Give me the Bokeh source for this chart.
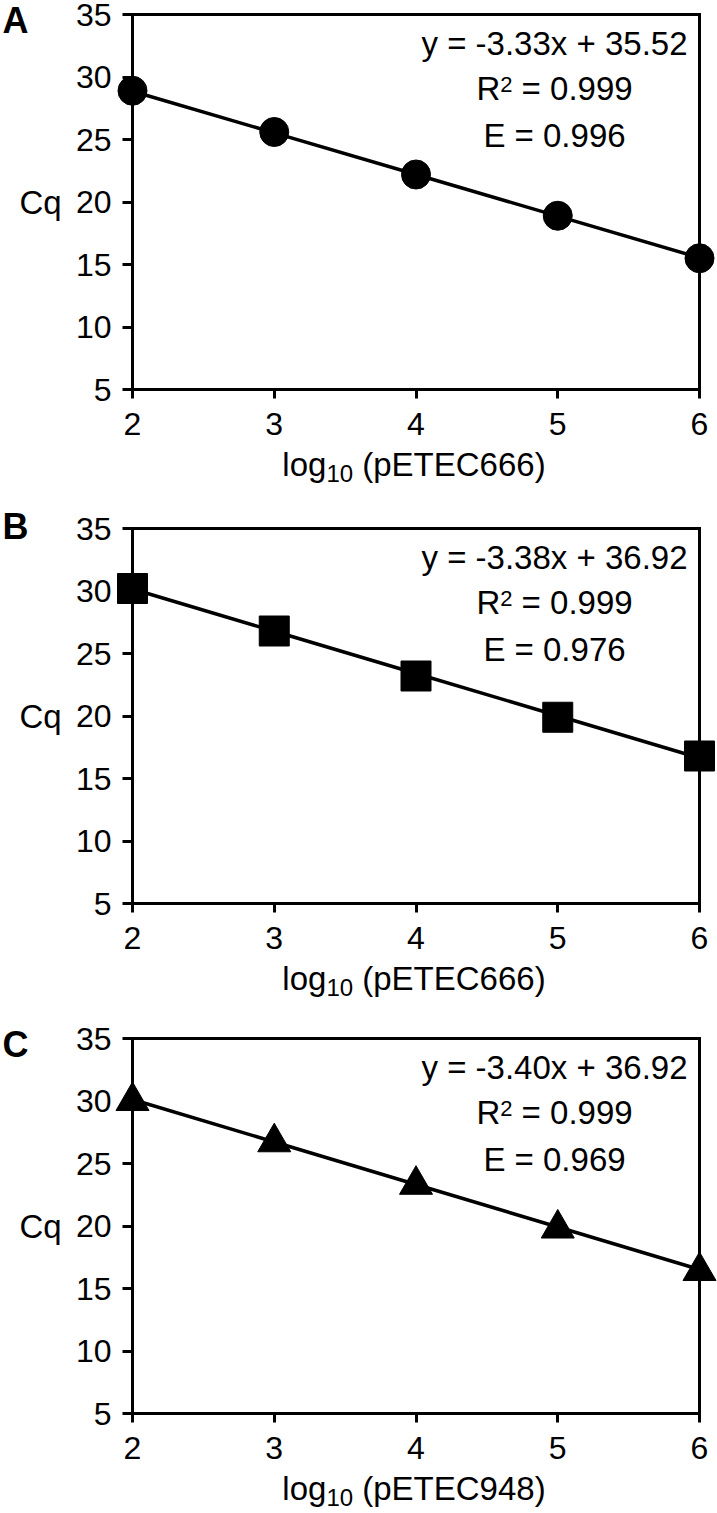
from bokeh.plotting import figure
from bokeh.models import Range1d, FixedTicker, LinearAxis, Label
from bokeh.layouts import column
from bokeh.embed import file_html
from bokeh.resources import INLINE

# ---------------- data ----------------
x_log = [2, 3, 4, 5, 6]
cq_a = [28.9, 25.6, 22.2, 18.9, 15.5]
cq_b = [30.2, 26.8, 23.2, 19.9, 16.8]
cq_c = [30.0, 26.7, 23.3, 19.8, 16.4]
panel_letters = ["A", "B", "C"]
plasmids = ["pETEC666", "pETEC666", "pETEC948"]
slopes = [-3.33, -3.38, -3.40]
intercepts = [35.52, 36.92, 36.92]
r2_vals = [0.999, 0.999, 0.999]
eff_vals = [0.996, 0.976, 0.969]
x_ticks = [2, 3, 4, 5, 6]
y_ticks = [5, 10, 15, 20, 25, 30, 35]
y_title = "Cq"

series = [cq_a, cq_b, cq_c]
markers = ["circle", "square", "triangle"]
marker_sizes = [29, 30, 33]

# ---------------- layout ----------------
FONT = "Liberation Sans"
NB = "\u00a0"
FIG_W = 717
LEFT = 132
PLOT_W = 567
RIGHT = FIG_W - LEFT - PLOT_W
PLOT_H = 375
fig_h = [500, 516, 496]
tops = [14, 28, 22]
letter_yo = [-6, 2, -6]   # letter ink centre offset from frame top (px, up positive)

XMIN, XMAX = x_ticks[0], x_ticks[-1]
YMIN, YMAX = y_ticks[0], y_ticks[-1]

# Arial/Liberation Sans advance widths (em)
W = {"R": .722, " ": .278, NB: .278, "=": .584, ".": .278, "l": .222, "o": .556, "g": .556,
     "(": .333, ")": .333, "p": .556, "E": .667, "T": .611, "C": .722}


def tw(s, size):
    return sum(W.get(ch, 0.556) for ch in s) * size


def lbl(p, x, y, text, size, xo=0, yo=0, align="left", baseline="middle", bold=False):
    p.add_layout(Label(x=x, y=y, x_offset=xo, y_offset=yo, text=text,
                       text_font=FONT, text_font_size=f"{size}px",
                       text_font_style="bold" if bold else "normal",
                       text_align=align, text_baseline=baseline, text_color="black"))


def composite(p, x, y, cx, parts):
    total = sum(tw(t, s) for t, s, _ in parts)
    cur = cx - total / 2
    for t, s, yo in parts:
        lbl(p, x, y, t, s, xo=cur, yo=yo)
        cur += tw(t, s)


figs = []
for i in range(3):
    h = fig_h[i]
    top = tops[i]
    ppx = PLOT_W / (XMAX - XMIN)
    ppy = PLOT_H / (YMAX - YMIN)
    xr = Range1d(XMIN - LEFT / ppx, XMAX + RIGHT / ppx)
    yr = Range1d(YMIN - (h - top - PLOT_H) / ppy, YMAX + top / ppy)
    p = figure(width=FIG_W, height=h, x_range=xr, y_range=yr,
               output_backend="svg", toolbar_location=None, min_border=0)
    p.outline_line_color = None
    p.grid.visible = False
    p.background_fill_color = "white"
    p.border_fill_color = "white"

    # main axes, fixed at the data box
    xa = p.xaxis[0]
    xa.fixed_location = YMIN
    xa.bounds = (XMIN, XMAX)
    xa.ticker = FixedTicker(ticks=x_ticks)
    ya = p.yaxis[0]
    ya.fixed_location = XMIN
    ya.bounds = (YMIN, YMAX)
    ya.ticker = FixedTicker(ticks=y_ticks)
    for ax in (xa, ya):
        ax.axis_line_width = 3
        ax.axis_line_color = "black"
        ax.axis_line_cap = "square"
        ax.major_tick_line_width = 3
        ax.major_tick_line_color = "black"
        ax.major_tick_in = 0
        ax.minor_tick_line_color = None
        ax.major_label_text_font = FONT
        ax.major_label_text_font_size = "32px"
        ax.major_label_text_color = "black"
    xa.major_tick_out = 9
    xa.major_label_standoff = 14
    ya.major_tick_out = 10
    ya.major_label_standoff = 11

    # box closing axes (no ticks)
    ra = LinearAxis(fixed_location=XMAX, bounds=(YMIN, YMAX), ticker=FixedTicker(ticks=[]),
                    axis_line_width=3, axis_line_color="black", axis_line_cap="square",
                    major_tick_out=0, major_tick_in=0, minor_tick_line_color=None,
                    major_label_text_color=None)
    ta = LinearAxis(fixed_location=YMAX, bounds=(XMIN, XMAX), ticker=FixedTicker(ticks=[]),
                    axis_line_width=3, axis_line_color="black", axis_line_cap="square",
                    major_tick_out=0, major_tick_in=0, minor_tick_line_color=None,
                    major_label_text_color=None)
    p.add_layout(ra, "right")
    p.add_layout(ta, "above")

    # fitted line and points
    fit_y = [slopes[i] * xv + intercepts[i] for xv in x_log]
    p.line(x_log, fit_y, line_color="black", line_width=3.5)
    p.scatter(x_log, series[i], marker=markers[i], size=marker_sizes[i],
              fill_color="black", line_color="black")

    # panel letter
    lbl(p, XMIN, YMAX, panel_letters[i], 36, xo=2 - LEFT, yo=letter_yo[i], bold=True)
    # y title
    lbl(p, XMIN, (YMIN + YMAX) / 2, y_title, 33, xo=-92, yo=0, align="center")
    # x title: log10 (plasmid)
    composite(p, (XMIN + XMAX) / 2, YMIN, -2,
              [("log", 33, -74.5), ("10", 24, -84), (f"{NB}({plasmids[i]})", 33, -74.5)])
    # regression annotations
    CX = -145
    eq = f"y = {slopes[i]:.2f}x + {intercepts[i]:.2f}"
    lbl(p, XMAX, YMAX, eq, 33, xo=CX, yo=-28.5, align="center")
    composite(p, XMAX, YMAX, CX,
              [("R", 33, -73.5), ("2", 22, -69.5), (f"{NB}={NB}{r2_vals[i]:.3f}", 33, -73.5)])
    lbl(p, XMAX, YMAX, f"E = {eff_vals[i]:.3f}", 33, xo=CX, yo=-120.5, align="center")

    figs.append(p)

layout = column(*figs)
open("out.html", "w").write(file_html(layout, INLINE))
